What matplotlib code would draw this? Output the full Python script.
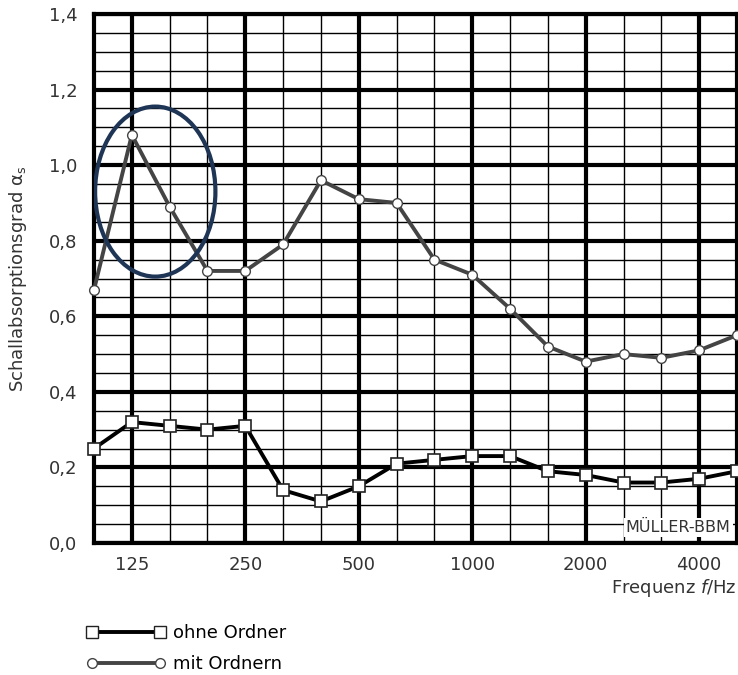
import matplotlib
matplotlib.use("Agg")
import matplotlib.pyplot as plt
from matplotlib.patches import Ellipse
from matplotlib.lines import Line2D

bands = [100, 125, 160, 200, 250, 315, 400, 500, 630, 800, 1000, 1250,
         1600, 2000, 2500, 3150, 4000, 5000]
mit_ordnern = [0.67, 1.08, 0.89, 0.72, 0.72, 0.79, 0.96, 0.91, 0.90, 0.75,
               0.71, 0.62, 0.52, 0.48, 0.50, 0.49, 0.51, 0.55]
ohne_ordner = [0.25, 0.32, 0.31, 0.30, 0.31, 0.14, 0.11, 0.15, 0.21, 0.22,
               0.23, 0.23, 0.19, 0.18, 0.16, 0.16, 0.17, 0.19]
xtick_labels = ["125", "250", "500", "1000", "2000", "4000"]
ytick_labels = ["0,0", "0,2", "0,4", "0,6", "0,8", "1,0", "1,2", "1,4"]

plt.rcParams['font.family'] = ['DejaVu Sans']
plt.rcParams['mathtext.fontset'] = 'dejavusans'
TXT = '#333333'
FS = 13

fig = plt.figure(figsize=(7.38, 6.75), dpi=100)
ax = fig.add_axes([94/738, 1-543/675, 643/738, 529/675])

idx = list(range(len(bands)))
ax.set_xlim(0, len(bands) - 1)
ax.set_ylim(0, 1.4)

# grid
for i, b in enumerate(bands):
    thick = str(b) in xtick_labels
    ax.axvline(i, color='black', lw=3.0 if thick else 1.0, zorder=1)
for k in range(0, 29):
    y = k * 0.05
    thick = (k % 4 == 0)
    ax.axhline(y, color='black', lw=3.0 if thick else 1.0, zorder=1)

for s in ax.spines.values():
    s.set_linewidth(3)

ax.plot(idx, ohne_ordner, color='black', lw=2.8, marker='s', ms=9,
        mfc='white', mec='#222222', mew=1.2, zorder=4, clip_on=False)
ax.plot(idx, mit_ordnern, color='#444444', lw=2.8, marker='o', ms=7,
        mfc='white', mec='#444444', mew=1.0, zorder=4, clip_on=False)

ell = Ellipse((1.62, 0.93), 3.18, 0.45, fill=False, ec='#1f3556', lw=3, zorder=5)
ax.add_patch(ell)

tick_pos = [bands.index(int(t)) for t in xtick_labels]
ax.set_xticks(tick_pos)
ax.set_xticklabels(xtick_labels, fontsize=FS, color=TXT)
ax.set_yticks([k * 0.2 for k in range(8)])
ax.set_yticklabels(ytick_labels, fontsize=FS, color=TXT)
ax.tick_params(length=0, pad=12)
ax.tick_params(axis='x', pad=9)

ax.set_ylabel("Schallabsorptionsgrad α$_\\mathregular{s}$", fontsize=FS, color=TXT, labelpad=14)

fig.text(737/738, 1-588/675, r"Frequenz $f$/Hz", ha='right', va='center',
         fontsize=FS, color=TXT)

ax.text(0.99, 0.03, "MÜLLER-BBM", transform=ax.transAxes, ha='right', va='center',
        fontsize=11.5, color='#333333', zorder=6,
        bbox=dict(facecolor='white', edgecolor='none', pad=1.5))

handles = [
    Line2D([0], [0], color='black', lw=2.8, marker='s', ms=8, mfc='white',
           mec='#222222'),
    Line2D([0], [0], color='#444444', lw=2.8, marker='o', ms=7, mfc='white',
           mec='#444444'),
]
fig.legend(handles, ["ohne Ordner", "mit Ordnern"], loc='upper left',
           bbox_to_anchor=(79/738, 1-617/675), frameon=False, fontsize=FS,
           numpoints=2, handlelength=4.4, labelspacing=0.7, handletextpad=0.4,
           borderaxespad=0)

fig.savefig("out.png", dpi=100)
